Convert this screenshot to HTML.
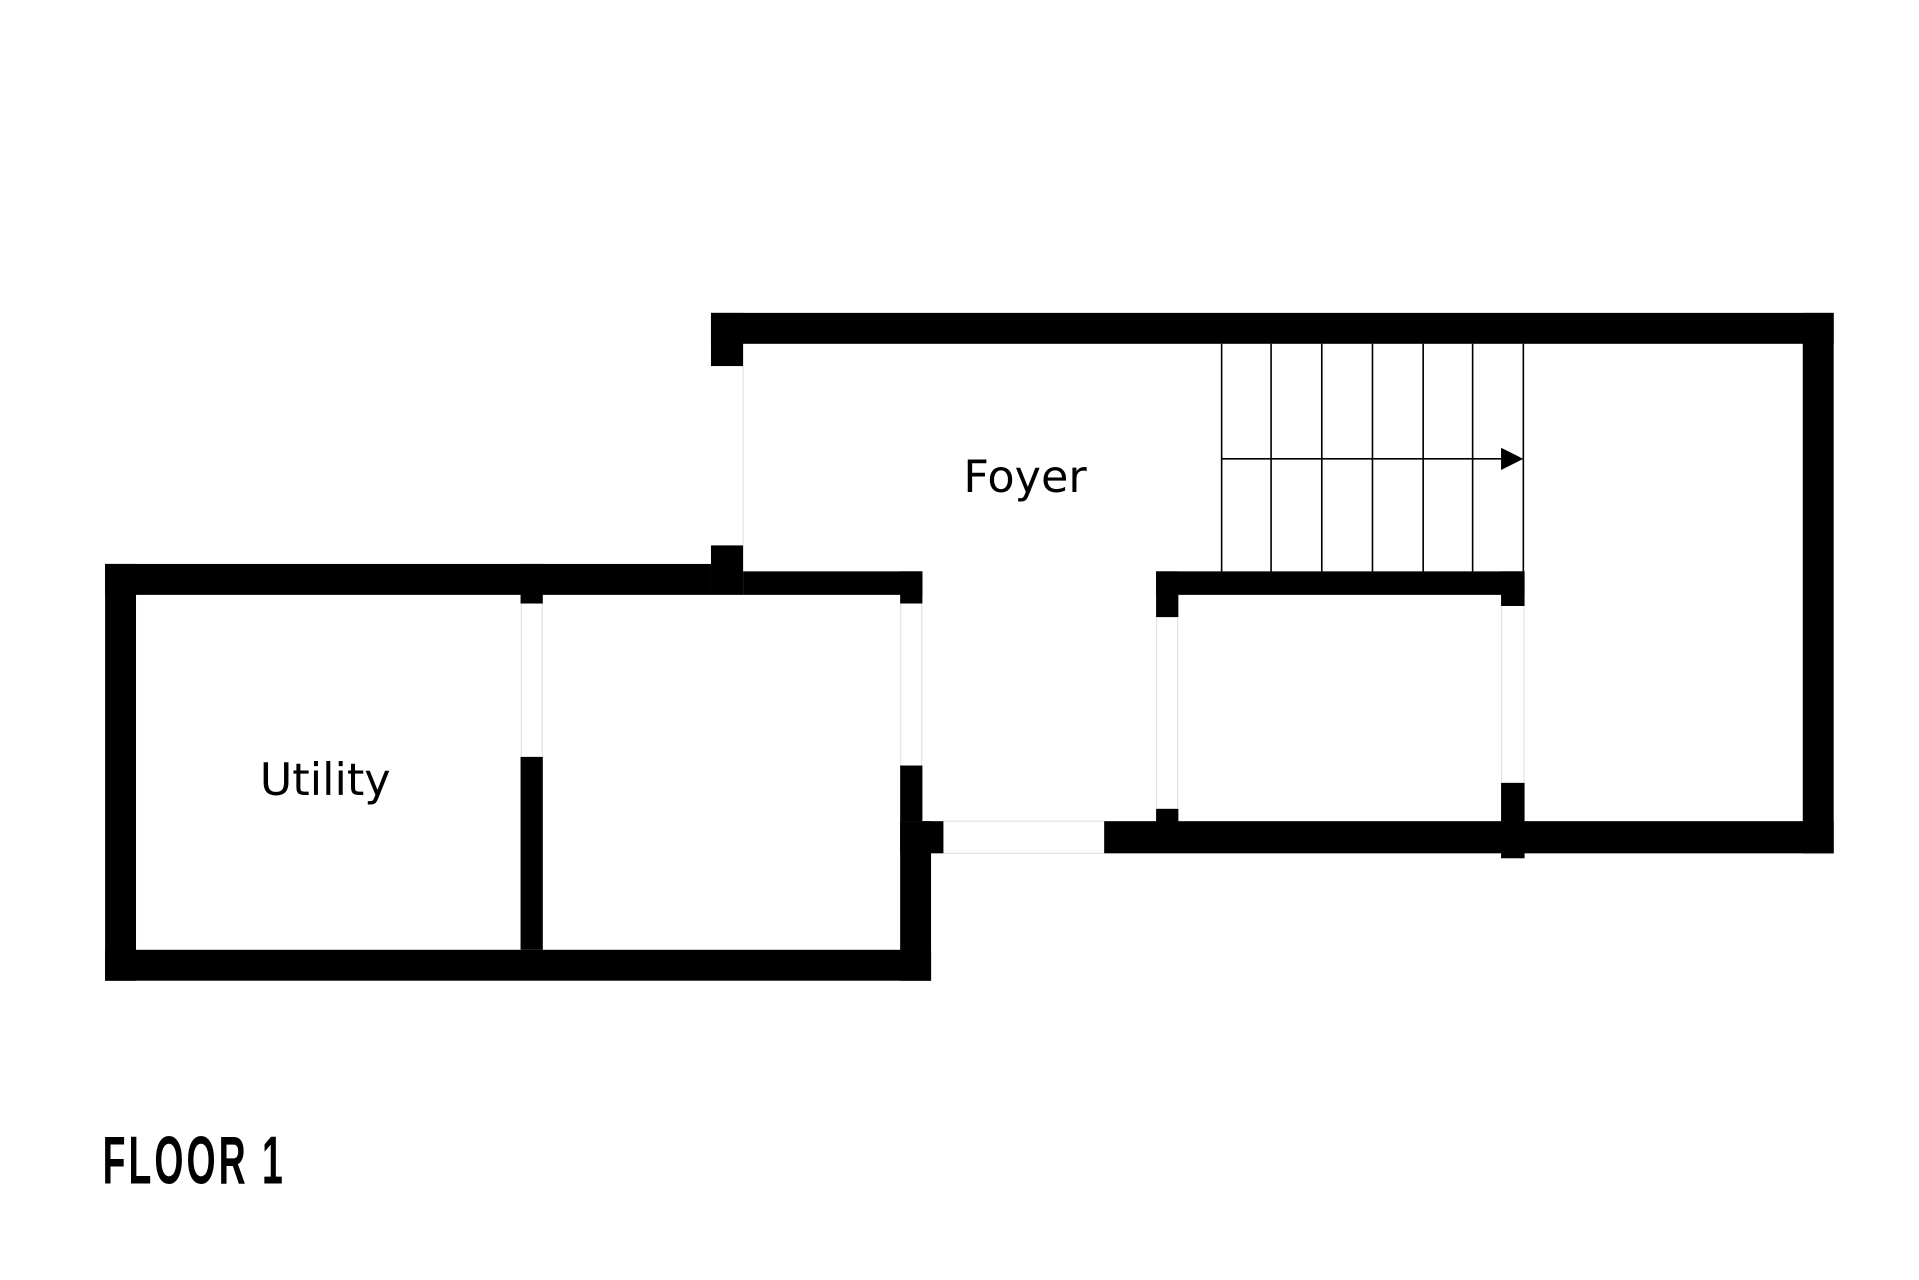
<!DOCTYPE html>
<html><head><meta charset="utf-8"><style>html,body{margin:0;padding:0;background:#fff}svg{display:block}</style></head>
<body>
<svg width="1919" height="1280" viewBox="0 0 1552 1035" preserveAspectRatio="none" xmlns="http://www.w3.org/2000/svg">
<rect width="1552" height="1035" fill="#fff"/>
<g fill="#000">
<rect x="575" y="253" width="908" height="25"/>
<rect x="1458" y="253" width="25" height="437"/>
<rect x="575" y="253" width="26" height="43"/>
<rect x="575" y="441" width="26" height="40"/>
<rect x="85" y="456" width="490" height="25"/>
<rect x="601" y="462" width="145" height="19"/>
<rect x="728" y="462" width="18" height="26"/>
<rect x="85" y="456" width="25" height="337"/>
<rect x="85" y="768" width="668" height="25"/>
<rect x="421" y="456" width="18" height="32"/>
<rect x="421" y="612" width="18" height="156"/>
<rect x="728" y="619" width="18" height="45"/>
<rect x="728" y="664" width="35" height="26"/>
<rect x="728" y="664" width="25" height="129"/>
<rect x="893" y="664" width="590" height="26"/>
<rect x="935" y="462" width="298" height="19"/>
<rect x="935" y="462" width="18" height="37"/>
<rect x="935" y="654" width="18" height="12"/>
<rect x="1214" y="462" width="19" height="28"/>
<rect x="1214" y="633" width="19" height="61"/>
<polygon points="1214,362 1232,371 1214,380"/>
</g>
<g stroke="#000" stroke-width="1.3">
<line x1="988" y1="278" x2="988" y2="462"/>
<line x1="1028" y1="278" x2="1028" y2="462"/>
<line x1="1069" y1="278" x2="1069" y2="462"/>
<line x1="1110" y1="278" x2="1110" y2="462"/>
<line x1="1151" y1="278" x2="1151" y2="462"/>
<line x1="1191" y1="278" x2="1191" y2="462"/>
<line x1="1232" y1="278" x2="1232" y2="462"/>
<line x1="988" y1="371" x2="1218" y2="371"/>
</g>
<g stroke="#ddd" stroke-width="0.8">
<line x1="601" y1="296" x2="601" y2="441"/>
<line x1="728.5" y1="488" x2="728.5" y2="619"/>
<line x1="745.5" y1="488" x2="745.5" y2="619"/>
<line x1="763" y1="664" x2="893" y2="664"/>
<line x1="763" y1="690" x2="893" y2="690"/>
<line x1="935.5" y1="499" x2="935.5" y2="654"/>
<line x1="952.5" y1="499" x2="952.5" y2="654"/>
<line x1="1214.5" y1="490" x2="1214.5" y2="633"/>
<line x1="1232.5" y1="490" x2="1232.5" y2="633"/>
<line x1="421.5" y1="488" x2="421.5" y2="612"/>
<line x1="438.5" y1="488" x2="438.5" y2="612"/>
</g>
<text x="829" y="398" font-family="DejaVu Sans, sans-serif" font-size="36" text-anchor="middle" fill="#000">Foyer</text>
<text x="263" y="643" font-family="DejaVu Sans, sans-serif" font-size="36" text-anchor="middle" fill="#000">Utility</text>
<text transform="translate(83,957) scale(0.55,1)" x="0" y="0" font-family="Liberation Sans, sans-serif" font-weight="bold" font-size="55" textLength="265" lengthAdjust="spacing" fill="#000">FLOOR 1</text>
</svg>
</body></html>
